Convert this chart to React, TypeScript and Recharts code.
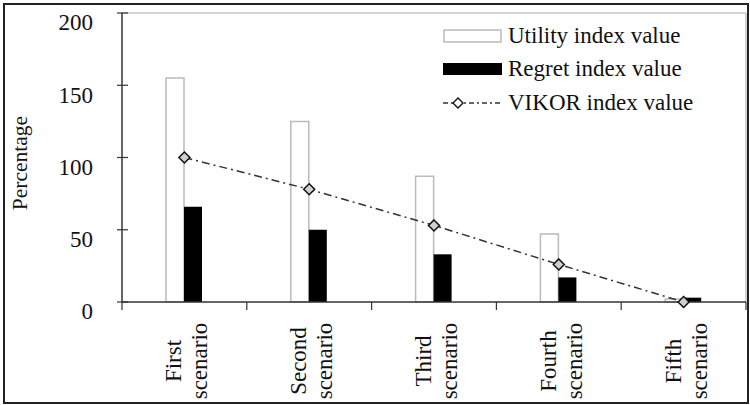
import React from "react";
import {
  ComposedChart,
  Bar,
  Line,
  XAxis,
  YAxis,
  CartesianGrid,
  Legend,
} from "recharts";

// values
const scenarios = [
  "First scenario",
  "Second scenario",
  "Third scenario",
  "Fourth scenario",
  "Fifth scenario",
];
const utilityValues = [155, 125, 87, 47, 2];
const regretValues = [66, 50, 33, 17, 3];
const vikorValues = [100, 78, 53, 26, 0];
const yTicks = [0, 50, 100, 150, 200];
const seriesOrder = ["utility", "regret", "vikor"];

const data = scenarios.map((name, i) => ({
  name,
  utility: utilityValues[i],
  regret: regretValues[i],
  vikor: vikorValues[i],
}));

const FONT = "Liberation Serif, DejaVu Serif, serif";
const BAND = 624 / scenarios.length;

function YTick({ x, y, payload }: any) {
  return (
    <g>
      <line x1={x - 5} x2={x + 6} y1={y} y2={y} stroke="#333" strokeWidth={1.2} />
      <text x={x - 29} y={y + 12} textAnchor="end" dominantBaseline="middle" style={{ fontFamily: FONT }} fontSize={23} fill="#111">
        {payload.value}
      </text>
    </g>
  );
}

function XTick({ x, y, payload, index }: any) {
  const [a, b] = String(payload.value).split(" ");
  const cy = 361;
  return (
    <g>
      {index === 0 && <line x1={x - BAND / 2} x2={x - BAND / 2} y1={y} y2={y + 8} stroke="#333" strokeWidth={1.2} />}
      <line x1={x + BAND / 2} x2={x + BAND / 2} y1={y} y2={y + 8} stroke="#333" strokeWidth={1.2} />
      <text x={x - 3} y={cy} transform={`rotate(-90 ${x - 3} ${cy})`} textAnchor="middle" style={{ fontFamily: FONT }} fontSize={23} fill="#111">
        {a}
      </text>
      <text x={x + 23} y={cy} transform={`rotate(-90 ${x + 23} ${cy})`} textAnchor="middle" style={{ fontFamily: FONT }} fontSize={23} fill="#111">
        {b}
      </text>
    </g>
  );
}

function Diamond({ cx, cy }: any) {
  if (cx == null || cy == null) return null;
  const r = 5.5;
  return (
    <polygon
      points={`${cx},${cy - r} ${cx + r},${cy} ${cx},${cy + r} ${cx - r},${cy}`}
      fill="#d0d0d0"
      stroke="#111"
      strokeWidth={1.5}
    />
  );
}

function LegendBox({ payload }: any) {
  const items = [...(payload || [])].sort(
    (p: any, q: any) => seriesOrder.indexOf(p.dataKey) - seriesOrder.indexOf(q.dataKey)
  );
  return (
    <div style={{ fontFamily: FONT, fontSize: 23, color: "#111", textAlign: "left" }}>
      {items.map((item: any) => {
        let swatch;
        if (item.dataKey === "utility") {
          swatch = <rect x={1} y={8} width={57} height={12} fill="#fff" stroke="#bbb" strokeWidth={1.5} />;
        } else if (item.dataKey === "regret") {
          swatch = <rect x={0} y={8} width={59} height={12} fill="#000" />;
        } else {
          swatch = (
            <g>
              <line x1={0} x2={59} y1={14} y2={14} stroke="#333" strokeWidth={1.3} strokeDasharray="5 3 2 3" />
              <polygon points="15,9 20,14 15,19 10,14" fill="#fff" stroke="#111" strokeWidth={1.4} />
            </g>
          );
        }
        return (
          <div key={item.value} style={{ display: "flex", alignItems: "center", height: 33.5 }}>
            <svg width={59} height={28} style={{ marginRight: 6 }}>
              {swatch}
            </svg>
            <span>{item.value}</span>
          </div>
        );
      })}
    </div>
  );
}

export default function App() {
  return (
    <div style={{ position: "absolute", left: 0, top: 0, width: 750, height: 405, background: "#fff", fontFamily: FONT }}>
      <div
        style={{
          position: "absolute",
          left: 3,
          top: 3,
          width: 742,
          height: 397,
          border: "2px solid #222",
          boxSizing: "content-box",
          pointerEvents: "none",
          zIndex: 2,
        }}
      />
      <ComposedChart
        width={750}
        height={405}
        data={data}
        margin={{ top: 13, right: 4, left: 0, bottom: 0 }}
        barGap={0}
        barSize={18}
      >
        <CartesianGrid
          stroke="#c4c4c4"
          strokeWidth={1.5}
          horizontalCoordinatesGenerator={({ offset }: any) => [offset.top]}
          verticalCoordinatesGenerator={({ offset }: any) => [offset.left + offset.width]}
        />
        <XAxis
          dataKey="name"
          height={103}
          interval={0}
          tickLine={false}
          tickSize={0}
          tickMargin={0}
          stroke="#333"
          strokeWidth={1.5}
          tick={<XTick />}
        />
        <YAxis
          width={122}
          domain={[0, 200]}
          ticks={yTicks}
          tickLine={false}
          tickSize={0}
          tickMargin={0}
          stroke="#333"
          strokeWidth={1.5}
          tick={<YTick />}
          label={{
            content: () => (
              <text x={27} y={163} transform="rotate(-90 27 163)" textAnchor="middle" style={{ fontFamily: FONT }} fontSize={21.5} fill="#111">
                Percentage
              </text>
            ),
          }}
        />
        <Legend
          layout="vertical"
          verticalAlign="middle"
          align="center"
          content={<LegendBox />}
          wrapperStyle={{ left: 443, top: 19, width: 300 }}
        />
        <Bar dataKey="utility" name="Utility index value" fill="#fff" stroke="#bbb" strokeWidth={1.5} isAnimationActive={false} />
        <Bar dataKey="regret" name="Regret index value" fill="#000" isAnimationActive={false} />
        <Line
          type="linear"
          dataKey="vikor"
          name="VIKOR index value"
          stroke="#333"
          strokeWidth={1.5}
          strokeDasharray="8 4 2 4"
          dot={<Diamond />}
          activeDot={false}
          isAnimationActive={false}
        />
      </ComposedChart>
    </div>
  );
}
